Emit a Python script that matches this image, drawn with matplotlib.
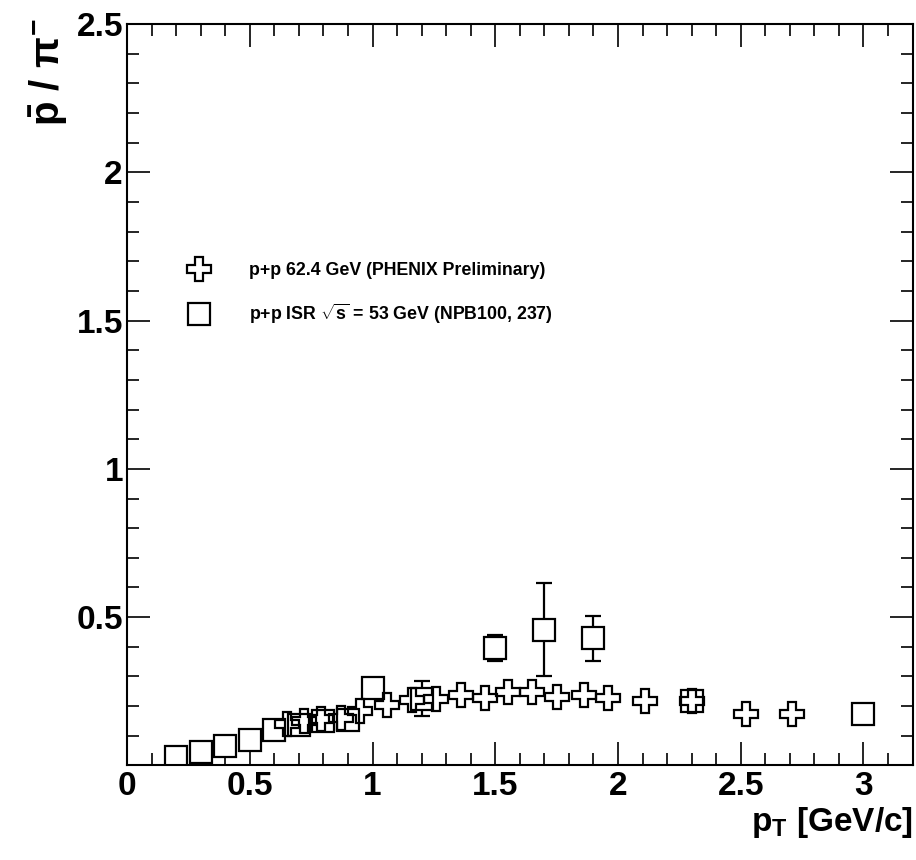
import matplotlib
matplotlib.use('Agg')
import matplotlib.pyplot as plt
from matplotlib.ticker import MultipleLocator

plt.rcParams['font.family'] = ['Liberation Sans', 'DejaVu Sans']
plt.rcParams['font.weight'] = 'bold'
plt.rcParams['mathtext.fontset'] = 'custom'
plt.rcParams['mathtext.rm'] = 'Liberation Sans:bold'
plt.rcParams['mathtext.bf'] = 'Liberation Sans:bold'
plt.rcParams['mathtext.it'] = 'Liberation Sans'

# p+p 62.4 GeV, PHENIX preliminary pbar/pi-
phenix_pt = [0.65, 0.72, 0.79, 0.87, 0.95, 1.06, 1.16, 1.26, 1.36, 1.46, 1.55, 1.65,
             1.75, 1.86, 1.96, 2.11, 2.30, 2.52, 2.71]
phenix_ratio = [0.14, 0.15, 0.158, 0.16, 0.185, 0.205, 0.22, 0.225, 0.236, 0.228, 0.246,
                0.246, 0.232, 0.239, 0.226, 0.216, 0.216, 0.172, 0.172]

# ISR sqrt(s) = 53 GeV (NPB100, 237)
isr_pt = [0.20, 0.30, 0.40, 0.50, 0.60, 0.70, 0.80, 0.90, 1.00, 1.20, 1.50, 1.70, 1.90, 2.30, 3.00]
isr_ratio = [0.027, 0.045, 0.067, 0.087, 0.118, 0.135, 0.15, 0.152, 0.26, 0.225, 0.397,
             0.458, 0.428, 0.216, 0.172]
isr_err = [0, 0, 0, 0, 0, 0, 0, 0, 0, 0.06, 0.044, 0.157, 0.077, 0, 0]

fig = plt.figure(figsize=(9.16, 8.6), dpi=100)
ax = fig.add_axes([0.1387, 0.110, 0.8575, 0.862])

sq = ax.errorbar(isr_pt, isr_ratio, yerr=isr_err, fmt='s', ms=16.5, mfc='white', mec='black',
                 mew=1.6, ecolor='black', elinewidth=1.6, capsize=5.5, capthick=1.6,
                 zorder=2)
cr, = ax.plot(phenix_pt, phenix_ratio, 'P', ms=17.5, mfc='none', mec='black', mew=1.6,
              zorder=3)

ax.set_xlim(0, 3.2)
ax.set_ylim(0, 2.5)
ax.xaxis.set_minor_locator(MultipleLocator(0.1))
ax.yaxis.set_minor_locator(MultipleLocator(0.1))
ax.set_yticks([0.5, 1.0, 1.5, 2.0, 2.5])
ax.set_yticklabels(['0.5', '1', '1.5', '2', '2.5'])
ax.set_xticks([0, 0.5, 1.0, 1.5, 2.0, 2.5, 3.0])
ax.set_xticklabels(['0', '0.5', '1', '1.5', '2', '2.5', '3'])

ax.tick_params(which='both', direction='in', top=True, right=True, width=1.2,
               labelsize=24)
ax.tick_params(which='major', length=16.5)
ax.tick_params(which='minor', length=8.5)
ax.tick_params(axis='y', which='major', pad=3)
ax.tick_params(axis='x', which='major', pad=4)
for s in ax.spines.values():
    s.set_linewidth(1.5)

ax.set_xlabel(r'p$_{\mathrm{T}}$ [GeV/c]', fontsize=24, fontweight='bold', loc='right',
              labelpad=2)
ax.set_ylabel(r'$\bar{\mathrm{p}}$ / $\pi^{\mathrm{-}}$', fontsize=29, fontweight='bold',
              loc='top')
ax.yaxis.set_label_coords(-0.072, 1.008)

leg = ax.legend([cr, sq], ['p+p 62.4 GeV (PHENIX Preliminary)',
                           r'p+p ISR $\sqrt{\mathrm{s}}$ = 53 GeV (NPB100, 237)'],
                loc='upper left', bbox_to_anchor=(0.058, 0.70),
                frameon=False, fontsize=12.8, markerscale=0.95, handlelength=1.2,
                handletextpad=2.2, labelspacing=1.25, numpoints=1)
for t in leg.get_texts():
    t.set_fontweight('bold')

fig.savefig('out.png', dpi=100)
